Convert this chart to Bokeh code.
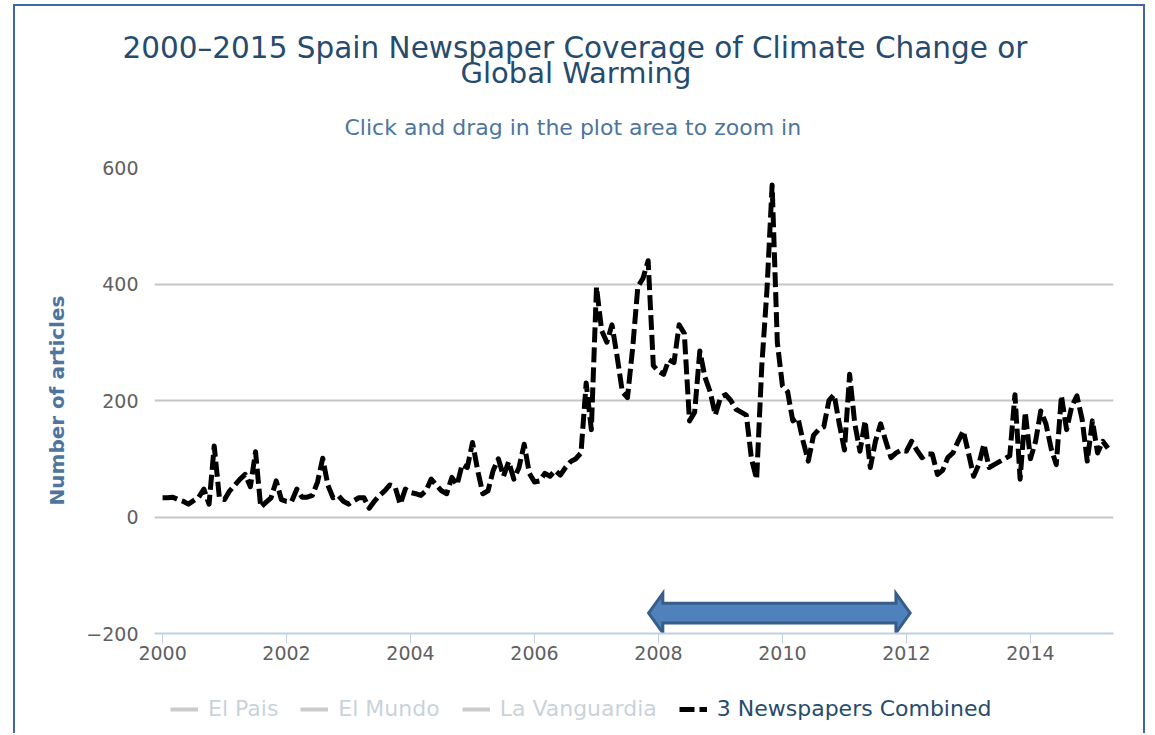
import pandas as pd
from bokeh.plotting import figure
from bokeh.layouts import column, row
from bokeh.models import FixedTicker, Title, Legend, LegendItem, Range1d, Spacer
from bokeh.embed import file_html
from bokeh.resources import INLINE

title_line1 = "2000–2015 Spain Newspaper Coverage of Climate Change or"
title_line2 = "Global Warming"
subtitle = "Click and drag in the plot area to zoom in"
y_label = "Number of articles"
series_names = ["El Pais", "El Mundo", "La Vanguardia", "3 Newspapers Combined"]
start_month = "2000-01"

# monthly article counts, 3 newspapers combined (Jan 2000 .. Apr 2015)
combined_2000 = [33, 33, 34, 30, 27, 22, 28, 34, 48, 22, 122, 33]
combined_2001 = [30, 45, 55, 65, 73, 52, 112, 17, 25, 33, 62, 30]
combined_2002 = [27, 27, 48, 34, 34, 37, 60, 101, 55, 33, 37, 27]
combined_2003 = [22, 28, 33, 33, 15, 27, 37, 45, 55, 52, 22, 48]
combined_2004 = [42, 40, 37, 45, 65, 55, 45, 40, 68, 55, 90, 85]
combined_2005 = [128, 80, 40, 45, 80, 100, 70, 95, 65, 85, 125, 75]
combined_2006 = [60, 62, 75, 70, 80, 72, 85, 95, 100, 110, 230, 150]
combined_2007 = [395, 320, 300, 330, 275, 215, 205, 290, 395, 410, 440, 260]
combined_2008 = [250, 245, 270, 265, 330, 315, 165, 180, 285, 240, 215, 175]
combined_2009 = [205, 210, 200, 185, 180, 175, 100, 65, 260, 390, 570, 300]
combined_2010 = [225, 215, 165, 170, 130, 96, 140, 150, 155, 200, 210, 160]
combined_2011 = [115, 245, 160, 113, 165, 85, 130, 160, 130, 102, 110, 115]
combined_2012 = [113, 130, 115, 102, 108, 108, 73, 80, 102, 110, 130, 148]
combined_2013 = [110, 70, 90, 125, 85, 90, 95, 100, 105, 210, 65, 180]
combined_2014 = [100, 130, 182, 160, 118, 90, 208, 150, 190, 208, 168, 96]
combined_2015 = [165, 110, 130, 118]

# hidden series (switched off in the legend, nothing drawn)
el_pais = [float("nan")]
el_mundo = [float("nan")]
la_vanguardia = [float("nan")]

x_ticks = [2000, 2002, 2004, 2006, 2008, 2010, 2012, 2014]
y_ticks = [-200, 0, 200, 400, 600]

# highlighted period arrow (decimal years) and its level on the y axis
arrow_span = [2007.84, 2012.06]
arrow_level = -165

combined = (combined_2000 + combined_2001 + combined_2002 + combined_2003 +
            combined_2004 + combined_2005 + combined_2006 + combined_2007 +
            combined_2008 + combined_2009 + combined_2010 + combined_2011 +
            combined_2012 + combined_2013 + combined_2014 + combined_2015)
dates = pd.date_range(start_month, periods=len(combined), freq="MS")
xs = list(dates.year + (dates.month - 1) / 12.0)

FONT = "DejaVu Sans"
W = 1128

p = figure(width=W, height=674, output_backend="svg", toolbar_location=None,
           x_range=Range1d(1999.87, 2015.34), y_range=Range1d(-200, 600),
           min_border_left=139, min_border_right=30, min_border_top=161,
           min_border_bottom=47, title=None)
p.outline_line_color = None
p.background_fill_color = "white"
p.border_fill_color = "white"

# titles (added from the plot outward)
p.add_layout(Title(text=subtitle, align="left", offset=190, standoff=55,
                   text_font=FONT, text_font_size="22px", text_font_style="normal",
                   text_color="#4d759e"), "above")
p.add_layout(Title(text=title_line2, align="left", offset=306, standoff=-9,
                   text_font=FONT, text_font_size="29px", text_font_style="normal",
                   text_color="#274b6d"), "above")
p.add_layout(Title(text=title_line1, align="left", offset=-32, standoff=-12,
                   text_font=FONT, text_font_size="29.5px", text_font_style="normal",
                   text_color="#274b6d"), "above")

# axes
p.xaxis.ticker = FixedTicker(ticks=x_ticks)
p.xaxis.axis_line_color = "#c0d0e0"
p.xaxis.axis_line_width = 2
p.xaxis.major_tick_line_color = "#c0d0e0"
p.xaxis.major_tick_out = 10
p.xaxis.major_tick_in = 0
p.xaxis.minor_tick_line_color = None
p.xaxis.major_label_standoff = 2
p.xaxis.major_label_text_font = FONT
p.xaxis.major_label_text_font_size = "19px"
p.xaxis.major_label_text_color = "#606060"

p.yaxis.ticker = FixedTicker(ticks=y_ticks)
p.yaxis.major_label_overrides = {-200: "−200"}
p.yaxis.axis_line_color = None
p.yaxis.major_tick_line_color = None
p.yaxis.minor_tick_line_color = None
p.yaxis.major_tick_out = 0
p.yaxis.major_tick_in = 0
p.yaxis.major_label_standoff = 16
p.yaxis.major_label_text_font = FONT
p.yaxis.major_label_text_font_size = "19px"
p.yaxis.major_label_text_color = "#606060"
p.yaxis.axis_label = y_label
p.yaxis.axis_label_text_font = FONT
p.yaxis.axis_label_text_font_size = "20px"
p.yaxis.axis_label_text_font_style = "bold"
p.yaxis.axis_label_text_color = "#4d759e"
p.yaxis.axis_label_standoff = 14

p.xgrid.grid_line_color = None
p.ygrid.grid_line_color = "#c6c6c6"
p.ygrid.grid_line_width = 2

# arrow annotation
ax0, ax1 = arrow_span
head_len = 0.23
head_half = 34
shaft_half = 17
arrow_x = [ax0, ax0 + head_len, ax0 + head_len, ax1 - head_len, ax1 - head_len,
           ax1, ax1 - head_len, ax1 - head_len, ax0 + head_len, ax0 + head_len]
arrow_y = [arrow_level, arrow_level + head_half, arrow_level + shaft_half,
           arrow_level + shaft_half, arrow_level + head_half, arrow_level,
           arrow_level - head_half, arrow_level - shaft_half,
           arrow_level - shaft_half, arrow_level - head_half]
p.patch(arrow_x, arrow_y, fill_color="#4f81bd", line_color="#385d8a",
        line_width=3, line_join="miter")

# the combined series
COMB_STYLE = dict(line_color="black", line_width=5, line_dash="15 5")
p.line(xs, combined, line_join="round", **COMB_STYLE)

# legend strip below the chart (its own small canvas)
lg = figure(width=W, height=53, output_backend="svg", toolbar_location=None,
            x_range=Range1d(0, 1), y_range=Range1d(0, 1), min_border=0,
            x_axis_location=None, y_axis_location=None, title=None)
lg.grid.visible = False
lg.outline_line_color = None
hidden = []
for data in (el_pais, el_mundo, la_vanguardia):
    r = lg.line(x=[0.0] * len(data), y=data, line_color="#333333", line_width=4)
    r.visible = False
    hidden.append(r)
proxy = lg.line(x=[0.0], y=[float("nan")], **COMB_STYLE)

items = [LegendItem(label=n, renderers=[r]) for n, r in zip(series_names, hidden + [proxy])]
legend = Legend(items=items, orientation="horizontal", location=(16, 12),
                label_text_font=FONT, label_text_font_size="22px",
                label_text_color="#274b6d", glyph_width=28, glyph_height=20,
                label_standoff=10, spacing=22, padding=0, margin=0,
                border_line_color=None, background_fill_alpha=0,
                click_policy="hide",
                inactive_fill_color="white", inactive_fill_alpha=0.75)
lg.add_layout(legend, "center")

framed = column(p, lg, spacing=0,
                styles={"border-left": "2px solid #3f67a6",
                        "border-top": "2px solid #3f67a6",
                        "border-right": "2px solid #3f67a6"})
page = column(Spacer(height=4), row(Spacer(width=13), framed))

open("out.html", "w").write(file_html(page, INLINE))
